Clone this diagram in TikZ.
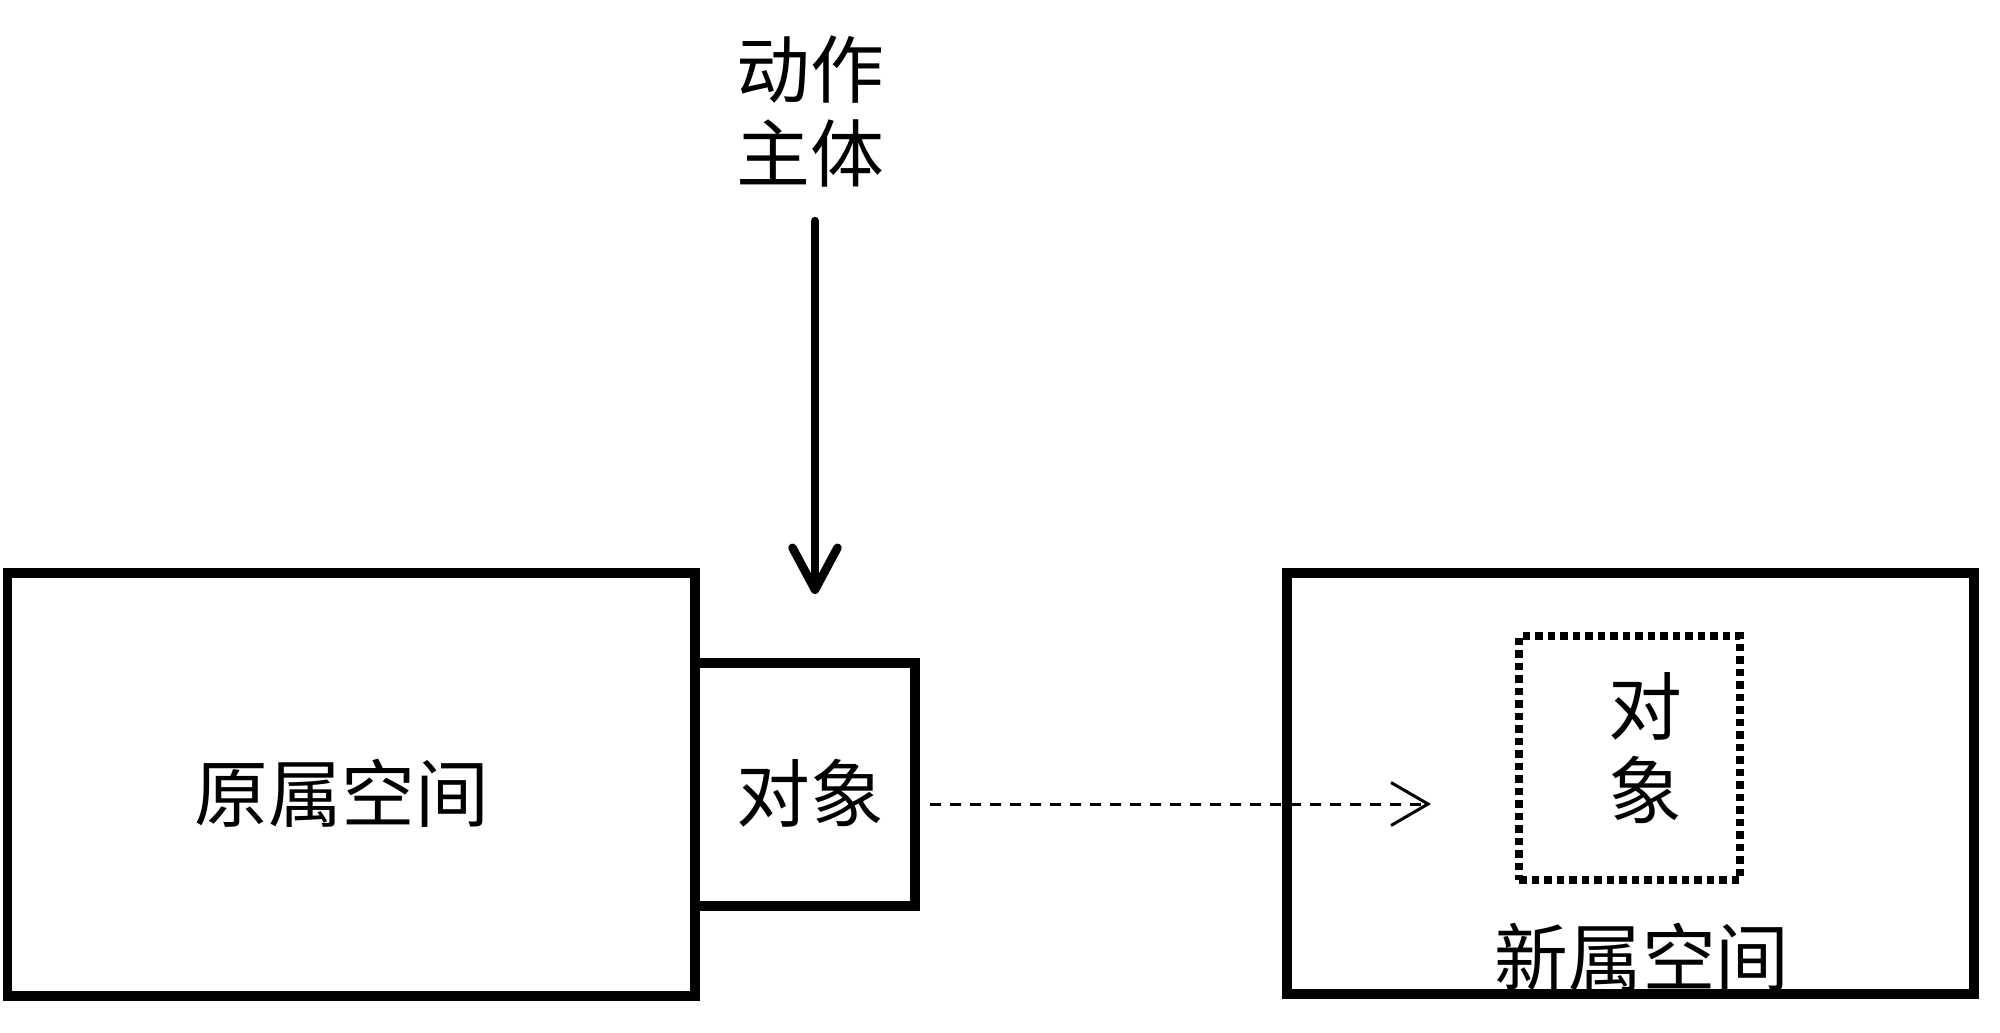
\documentclass[tikz,border=0pt]{standalone}
\usepackage{fontspec}
\newfontfamily\cjk{Noto Sans CJK SC}
\usetikzlibrary{arrows.meta}
\begin{document}
\begin{tikzpicture}
\useasboundingbox (0,0) rectangle (20,10.32);
\tikzset{
  boxstyle/.style={draw=black, line width=0.095cm, inner sep=0pt, outer sep=0pt},
  dotbox/.style={draw=black, line width=0.085cm, dash pattern=on 0.075cm off 0.05cm, inner sep=0pt, outer sep=0pt},
  lbl/.style={font=\cjk\fontsize{21}{24}\selectfont, inner sep=0pt, align=center},
  solidarrow/.style={line width=0.085cm, line cap=round, line join=round, -{Straight Barb[length=0.42cm, width=0.45cm, line cap=round, line join=round]}},
  dasharrow/.style={line width=0.03cm, dash pattern=on 0.11cm off 0.09cm, -{Straight Barb[length=0.37cm, width=0.43cm, line width=0.03cm]}}
}
% boxes
\node[boxstyle, minimum width=6.873cm, minimum height=4.23cm] (orig) at (3.513,2.475) {};
\node[boxstyle, minimum width=2.20cm, minimum height=2.43cm] (obj) at (8.05,2.475) {};
\node[boxstyle, minimum width=6.87cm, minimum height=4.21cm] (newsp) at (16.305,2.485) {};
\node[dotbox, minimum width=2.21cm, minimum height=2.44cm] (ghost) at (16.295,2.74) {};
% labels
\node[lbl] (actor) at (8.10,9.205) {动作\\主体};
\node[lbl] (origlbl) at (3.42,2.39) {原属空间};
\node[lbl] (objlbl) at (8.10,2.39) {对象};
\node[lbl] (ghostlbl) at (16.45,2.84) {对\\象};
\node[lbl] (newlbl) at (16.42,0.75) {新属空间};
% connectors
\coordinate (actorstart) at (8.15,8.11);
\coordinate (actorend) at (8.15,4.38);
\coordinate (movestart) at (9.30,2.28);
\coordinate (moveend) at (14.31,2.28);
\draw[solidarrow] (actorstart) -- (actorend);
\draw[dasharrow] (movestart) -- (moveend);
\end{tikzpicture}
\end{document}
